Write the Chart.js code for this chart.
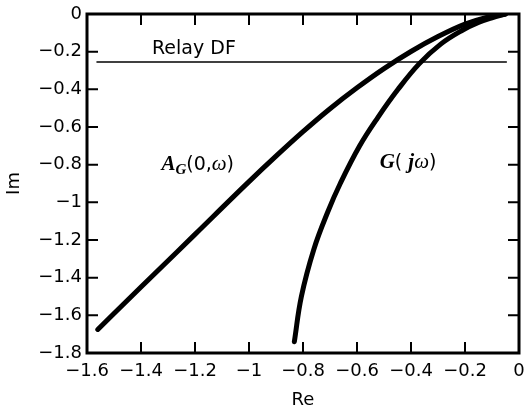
<!DOCTYPE html>
<html>
<head>
<meta charset="utf-8">
<script src="https://cdn.jsdelivr.net/npm/chart.js@4/dist/chart.umd.min.js"></script>
<style>
html,body{margin:0;padding:0;background:#fff;}
#c{display:block;}
</style>
</head>
<body>
<canvas id="c" width="524" height="413"></canvas>
<script>
// ---- data ----
const agRe = [-1.56, -1.40, -1.20, -1.00, -0.90, -0.80, -0.70, -0.60, -0.50, -0.40, -0.30, -0.20, -0.12, -0.05];
const agIm = [-1.675, -1.45, -1.17, -0.89, -0.755, -0.625, -0.503, -0.392, -0.29, -0.199, -0.12, -0.054, -0.018, 0.0];

const gRe = [-0.832, -0.806, -0.76, -0.708, -0.662, -0.59, -0.523, -0.448, -0.37, -0.29, -0.208, -0.15, -0.10, -0.05];
const gIm = [-1.74, -1.50, -1.25, -1.05, -0.90, -0.70, -0.55, -0.40, -0.265, -0.16, -0.085, -0.045, -0.02, 0.0];

const relayRe = [-1.565, -0.045];
const relayIm = [-0.255, -0.255];

const xTicks = [-1.6, -1.4, -1.2, -1.0, -0.8, -0.6, -0.4, -0.2, 0];
const yTicks = [-1.8, -1.6, -1.4, -1.2, -1.0, -0.8, -0.6, -0.4, -0.2, 0];
const xTitle = 'Re';
const yTitle = 'Im';
const relayLabel = 'Relay DF';

// label anchors (data coordinates)
const relayLabelPos = [-1.204, -0.214];
const agLabelPos = [-1.19, -0.828];
const gLabelPos = [-0.411, -0.82];

const toPts = (xs, ys) => xs.map((x, i) => ({x: x, y: ys[i]}));
const fmt = v => {
  const r = Math.round(v * 10) / 10;
  if (r === 0) return '0';
  return (r < 0 ? '\u2212' : '') + String(Math.abs(r));
};

const TICK_FONT = {family: '"DejaVu Sans"', size: 18};

const framePlugin = {
  id: 'frame',
  afterDatasetsDraw(chart) {
    const ctx = chart.ctx;
    const a = chart.chartArea;
    const xs = chart.scales.x, ys = chart.scales.y;
    ctx.save();
    ctx.strokeStyle = '#000';
    ctx.lineWidth = 2;
    const L = 11;
    ctx.beginPath();
    xTicks.forEach(v => {
      const px = xs.getPixelForValue(v);
      if (Math.abs(px - a.left) < 2 || Math.abs(px - a.right) < 2) return;
      ctx.moveTo(px, a.bottom); ctx.lineTo(px, a.bottom - L);
      ctx.moveTo(px, a.top); ctx.lineTo(px, a.top + L);
    });
    yTicks.forEach(v => {
      const py = ys.getPixelForValue(v);
      if (Math.abs(py - a.top) < 2 || Math.abs(py - a.bottom) < 2) return;
      ctx.moveTo(a.left, py); ctx.lineTo(a.left + L, py);
      ctx.moveTo(a.right, py); ctx.lineTo(a.right - L, py);
    });
    ctx.stroke();
    ctx.lineWidth = 3;
    ctx.strokeRect(a.left, a.top, a.right - a.left, a.bottom - a.top);

    ctx.fillStyle = '#000';
    ctx.textBaseline = 'alphabetic';
    ctx.textAlign = 'left';
    const drawRich = (segs, pos) => {
      let w = 0;
      segs.forEach(s => { ctx.font = s.f; s.w = ctx.measureText(s.t).width; w += s.w; });
      let x = xs.getPixelForValue(pos[0]) - w / 2;
      const y = ys.getPixelForValue(pos[1]);
      segs.forEach(s => { ctx.font = s.f; ctx.fillText(s.t, x, y + (s.dy || 0)); x += s.w; });
    };
    drawRich([{t: relayLabel, f: '19px "DejaVu Sans"'}], relayLabelPos);
    drawRich([
      {t: 'A', f: 'italic bold 21px "Liberation Serif"'},
      {t: 'G', f: 'italic bold 15px "Liberation Serif"', dy: 4},
      {t: '(0,', f: '19px "DejaVu Sans"'},
      {t: '\u03C9', f: 'italic 21px "Liberation Serif"'},
      {t: ')', f: '19px "DejaVu Sans"'}
    ], agLabelPos);
    drawRich([
      {t: 'G', f: 'italic bold 21px "Liberation Serif"'},
      {t: '( ', f: '19px "DejaVu Sans"'},
      {t: 'j', f: 'italic bold 21px "Liberation Serif"'},
      {t: '\u03C9', f: 'italic 21px "Liberation Serif"'},
      {t: ')', f: '19px "DejaVu Sans"'}
    ], gLabelPos);
    ctx.restore();
  }
};

const lineStyle = {
  showLine: true, borderColor: '#000', backgroundColor: '#000',
  pointRadius: 0, pointHoverRadius: 0, fill: false
};

new Chart(document.getElementById('c'), {
  type: 'scatter',
  data: {
    datasets: [
      Object.assign({label: 'A_G(0,ω)', data: toPts(agRe, agIm), borderWidth: 5,
        cubicInterpolationMode: 'monotone', borderCapStyle: 'round'}, lineStyle),
      Object.assign({label: 'G(jω)', data: toPts(gRe, gIm), borderWidth: 5,
        tension: 0.4, borderCapStyle: 'round'}, lineStyle),
      Object.assign({label: relayLabel, data: toPts(relayRe, relayIm), borderWidth: 1.5,
        tension: 0}, lineStyle)
    ]
  },
  options: {
    responsive: false,
    animation: false,
    layout: {padding: {top: 14, right: 5, left: 0, bottom: 0}},
    plugins: {legend: {display: false}, tooltip: {enabled: false}},
    scales: {
      x: {
        type: 'linear', min: -1.6, max: 0,
        afterBuildTicks: s => { s.ticks = xTicks.map(v => ({value: v})); },
        afterFit: s => { s.height = 60; s.paddingRight = 0; s.paddingLeft = 0; },
        ticks: {callback: fmt, font: TICK_FONT, color: '#000', padding: 8, maxRotation: 0, autoSkip: false},
        grid: {display: false, drawTicks: false},
        border: {display: false},
        title: {display: true, text: xTitle, color: '#000', font: {family: '"DejaVu Sans"', size: 18}, padding: {top: 0, bottom: 2}}
      },
      y: {
        type: 'linear', min: -1.8, max: 0,
        afterBuildTicks: s => { s.ticks = yTicks.map(v => ({value: v})); },
        afterFit: s => { s.width = 87; s.paddingTop = 0; s.paddingBottom = 0; },
        ticks: {callback: fmt, font: TICK_FONT, color: '#000', padding: 5, autoSkip: false},
        grid: {display: false, drawTicks: false},
        border: {display: false},
        title: {display: true, text: yTitle, color: '#000', font: {family: '"DejaVu Sans"', size: 18}, padding: {top: 4, bottom: 4}}
      }
    }
  },
  plugins: [framePlugin]
});
</script>
</body>
</html>
